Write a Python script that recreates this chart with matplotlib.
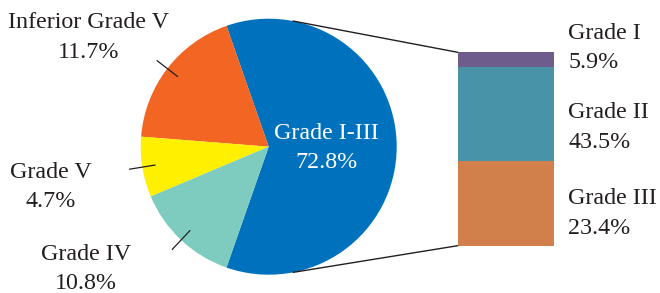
import numpy as np
import matplotlib
matplotlib.use("Agg")
import matplotlib.pyplot as plt
from matplotlib.patches import ConnectionPatch

# ---- data ----
pie_labels = ["Grade I-III", "Inferior Grade V", "Grade V", "Grade IV"]
pie_pct_label = [72.8, 11.7, 4.7, 10.8]          # percentages printed on the chart
pie_share_drawn = [60.7, 18.4, 7.6, 13.3]        # wedge sizes as drawn in the picture
pie_colors = ["#0071BD", "#F26522", "#FFF000", "#7ECCBF"]

bar_labels = ["Grade III", "Grade II", "Grade I"]   # bottom -> top
bar_pct_label = [23.4, 43.5, 5.9]
bar_share_drawn = [43.8, 48.8, 7.4]
bar_colors = ["#D17F4B", "#4893A7", "#6E5C8D"]

plt.rcParams['font.family'] = ['Liberation Serif', 'DejaVu Serif']
TXT = "#231F20"
FS = 17.3
LS = 1.55

W, H = 660, 293
fig = plt.figure(figsize=(W / 100, H / 100), dpi=100)

# pie axes: full figure, 1 data unit = R px
R = 128.0
cx, cy = 268.7, 146.7  # pie centre in px (from top-left)
ax1 = fig.add_axes([0, 0, 1, 1])

start = -pie_share_drawn[0] / 100 * 360 / 2
wedges, _ = ax1.pie(pie_share_drawn, colors=pie_colors, startangle=start,
                    counterclock=True, radius=1.0, center=(0, 0),
                    wedgeprops=dict(linewidth=0), frame=True)
ax1.set_xlim(-cx / R, (W - cx) / R)
ax1.set_ylim(-(H - cy) / R, cy / R)
ax1.set_aspect('equal')
ax1.axis('off')

# centre label
ax1.text(0.45, -0.01, f"{pie_labels[0]}\n{pie_pct_label[0]}%", color="white",
         fontsize=FS, ha='center', va='center', linespacing=LS)

# outer labels with leader lines
label_pos = {1: (-1.41, 0.85), 2: (-1.70, -0.315), 3: (-1.425, -0.955)}
for i in (1, 2, 3):
    w = wedges[i]
    mid = np.deg2rad((w.theta1 + w.theta2) / 2)
    ax1.plot([0.9 * np.cos(mid), 1.1 * np.cos(mid)],
             [0.9 * np.sin(mid), 1.1 * np.sin(mid)], color=TXT, lw=0.9)
    x, y = label_pos[i]
    ax1.text(x, y, f"{pie_labels[i]}\n{pie_pct_label[i]}%", color=TXT,
             fontsize=FS, ha='center', va='center', linespacing=LS)

# bar axes
bx0, bx1, by0, by1 = 457.7, 554.0, 52.3, 245.7
ax2 = fig.add_axes([bx0 / W, 1 - by1 / H, (bx1 - bx0) / W, (by1 - by0) / H])
bottom = 0
for v, c in zip(bar_share_drawn, bar_colors):
    ax2.bar(0, v, bottom=bottom, width=1.0, color=c, linewidth=0)
    bottom += v
ax2.set_xlim(-0.5, 0.5)
ax2.set_ylim(0, bottom)
ax2.axis('off')

# bar labels
bar_label_y = [-0.523, 0.152, 0.771]
for lab, p, y in zip(bar_labels, bar_pct_label, bar_label_y):
    ax1.text((568.3 - cx) / R, y, f"{lab}\n{p}%", color=TXT, fontsize=FS,
             ha='left', va='center', linespacing=LS)

# connector lines
ang = np.deg2rad(79)
for sgn, ybar in ((1, bottom), (-1, 0)):
    con = ConnectionPatch(xyA=(np.cos(ang), sgn * np.sin(ang)), coordsA=ax1.transData,
                          xyB=(-0.5, ybar), coordsB=ax2.transData,
                          color=TXT, lw=1.0)
    fig.add_artist(con)

fig.savefig("out.png", dpi=100)
